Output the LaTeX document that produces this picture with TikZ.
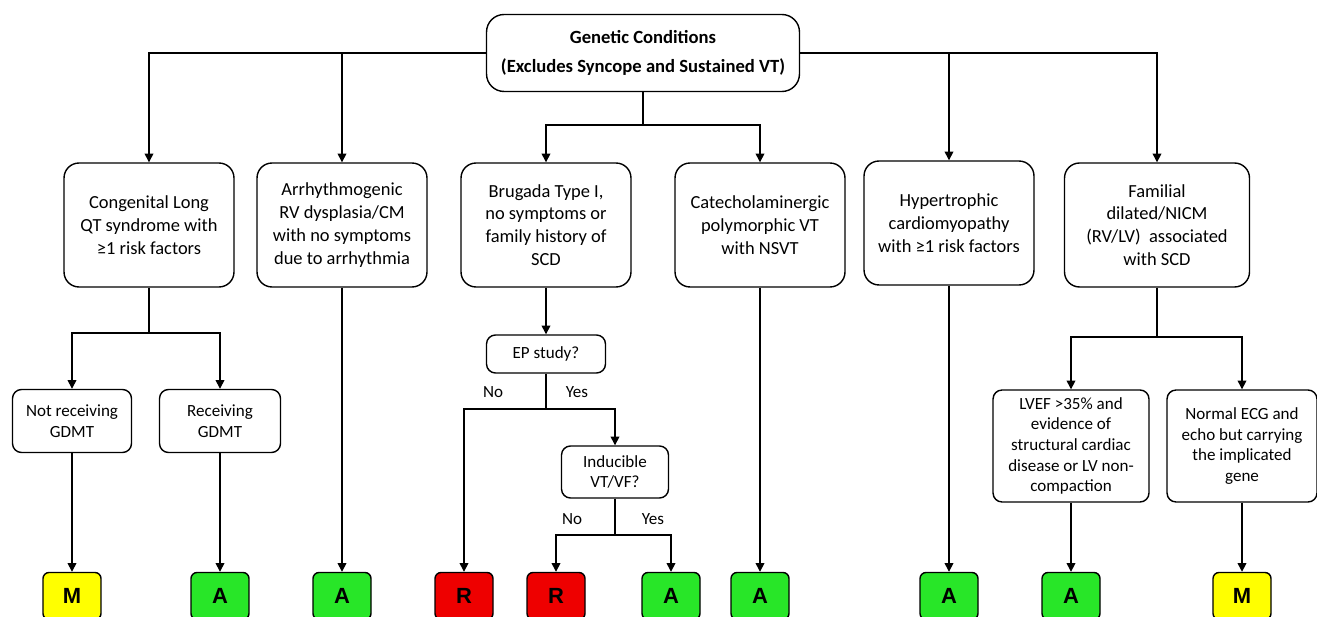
\documentclass[tikz,border=0pt]{standalone}
\usepackage{fontspec}
\setmainfont{Carlito}
\newfontfamily\ratefont{Liberation Sans}
\usetikzlibrary{arrows.meta, positioning}
\definecolor{rateM}{RGB}{255,255,0}
\definecolor{rateA}{RGB}{40,230,40}
\definecolor{rateR}{RGB}{238,0,0}

\begin{document}
\begin{tikzpicture}[x=0.02cm,y=-0.02cm,line width=0.8pt,>={Triangle[length=5pt,width=5pt]}]
  \tikzstyle{cond}=[draw,rounded corners=0.3cm,align=center,inner sep=0pt,
    minimum width=3.4cm,minimum height=2.48cm,font=\fontsize{10.5}{13}\selectfont]
  \tikzstyle{sub}=[draw,rounded corners=0.18cm,align=center,inner sep=0pt,
    font=\fontsize{9.7}{11.7}\selectfont]
  \tikzstyle{rating}=[draw,rounded corners=0.12cm,inner sep=0pt,minimum width=1.16cm,
    minimum height=0.94cm,font=\ratefont\bfseries\fontsize{12.5}{12.5}\selectfont]
  \tikzstyle{lbl}=[inner sep=0pt,font=\fontsize{9.7}{11.7}\selectfont]

  \useasboundingbox (0,0) rectangle (1317,617);

  \node[draw,rounded corners=0.35cm,align=center,minimum width=6.26cm,minimum height=1.54cm,
    font=\bfseries\fontsize{10.6}{16.5}\selectfont] (top) at (643,53)
    {Genetic Conditions\\(Excludes Syncope and Sustained VT)};

  \node[cond] (lqts) at (149,225) {Congenital Long\\QT syndrome with\\≥1 risk factors};
  \node[cond] (arvc) at (342,225) {Arrhythmogenic\\RV dysplasia/CM\\with no symptoms\\due to arrhythmia};
  \node[cond] (brug) at (546,225) {Brugada Type I,\\no symptoms or\\family history of\\SCD};
  \node[cond] (cpvt) at (760,225) {Catecholaminergic\\polymorphic VT\\with NSVT};
  \node[cond] (hcm)  at (949,223) {Hypertrophic\\cardiomyopathy\\with ≥1 risk factors};
  \node[cond,minimum width=3.7cm] (fam) at (1157,225) {Familial\\dilated/NICM\\(RV/LV)~ associated\\with SCD};

  \node[sub,minimum width=2.38cm,minimum height=1.26cm] (nogdmt) at (72,421) {Not receiving\\GDMT};
  \node[sub,minimum width=2.42cm,minimum height=1.26cm] (gdmt)   at (220,421) {Receiving\\GDMT};
  \node[sub,minimum width=2.38cm,minimum height=0.76cm] (ep)     at (546,354) {EP study?};
  \node[sub,minimum width=2.14cm,minimum height=1.04cm] (ind)    at (615,472) {Inducible\\VT/VF?};
  \node[sub,minimum width=3.12cm,minimum height=2.24cm] (lvef)   at (1071,446)
    {LVEF >35\% and\\evidence of\\structural cardiac\\disease or LV non-\\compaction};
  \node[sub,minimum width=3.0cm,minimum height=2.24cm]  (gene)   at (1242,446)
    {Normal ECG and\\echo but carrying\\the implicated\\gene};

  \node[rating,fill=rateM] (rM1) at (72,596)   {M};
  \node[rating,fill=rateA] (rA1) at (220,596)  {A};
  \node[rating,fill=rateA] (rA2) at (342,596)  {A};
  \node[rating,fill=rateR] (rR1) at (464,596)  {R};
  \node[rating,fill=rateR] (rR2) at (556,596)  {R};
  \node[rating,fill=rateA] (rA3) at (671,596)  {A};
  \node[rating,fill=rateA] (rA4) at (760,596)  {A};
  \node[rating,fill=rateA] (rA5) at (949,596)  {A};
  \node[rating,fill=rateA] (rA6) at (1071,596) {A};
  \node[rating,fill=rateM] (rM2) at (1242,596) {M};

  \coordinate (splitTop) at (643,125);
  \coordinate (splitLqts) at (149,333);
  \coordinate (splitEp) at (546,409);
  \coordinate (splitInd) at (615,535);
  \coordinate (splitFam) at (1157,337);

  \node[lbl] (epNo)   at (493,392) {No};
  \node[lbl] (epYes)  at (577,392) {Yes};
  \node[lbl] (indNo)  at (572,519) {No};
  \node[lbl] (indYes) at (653,519) {Yes};

  % first level
  \draw[->] (top.west) -| (lqts);
  \draw[->] (arvc |- top.west) -- (arvc);
  \draw[->] (top.east) -| (fam);
  \draw[->] (hcm |- top.east) -- (hcm);
  \draw (top) -- (splitTop);
  \draw[->] (splitTop) -| (brug);
  \draw[->] (splitTop) -| (cpvt);

  % branches
  \draw (lqts) -- (splitLqts);
  \draw[->] (splitLqts) -| (nogdmt);
  \draw[->] (splitLqts) -| (gdmt);
  \draw[->] (brug) -- (ep);
  \draw (ep) -- (splitEp);
  \draw[->] (splitEp) -| (rR1);
  \draw[->] (splitEp) -| (ind);
  \draw (ind) -- (splitInd);
  \draw[->] (splitInd) -| (rR2);
  \draw[->] (splitInd) -| (rA3);
  \draw (fam) -- (splitFam);
  \draw[->] (splitFam) -| (lvef);
  \draw[->] (splitFam) -| (gene);

  % ratings
  \path[->]
  (nogdmt) edge (rM1)
  (gdmt)   edge (rA1)
  (arvc)   edge (rA2)
  (cpvt)   edge (rA4)
  (hcm)    edge (rA5)
  (lvef)   edge (rA6)
  (gene)   edge (rM2)
  ;
\end{tikzpicture}
\end{document}
